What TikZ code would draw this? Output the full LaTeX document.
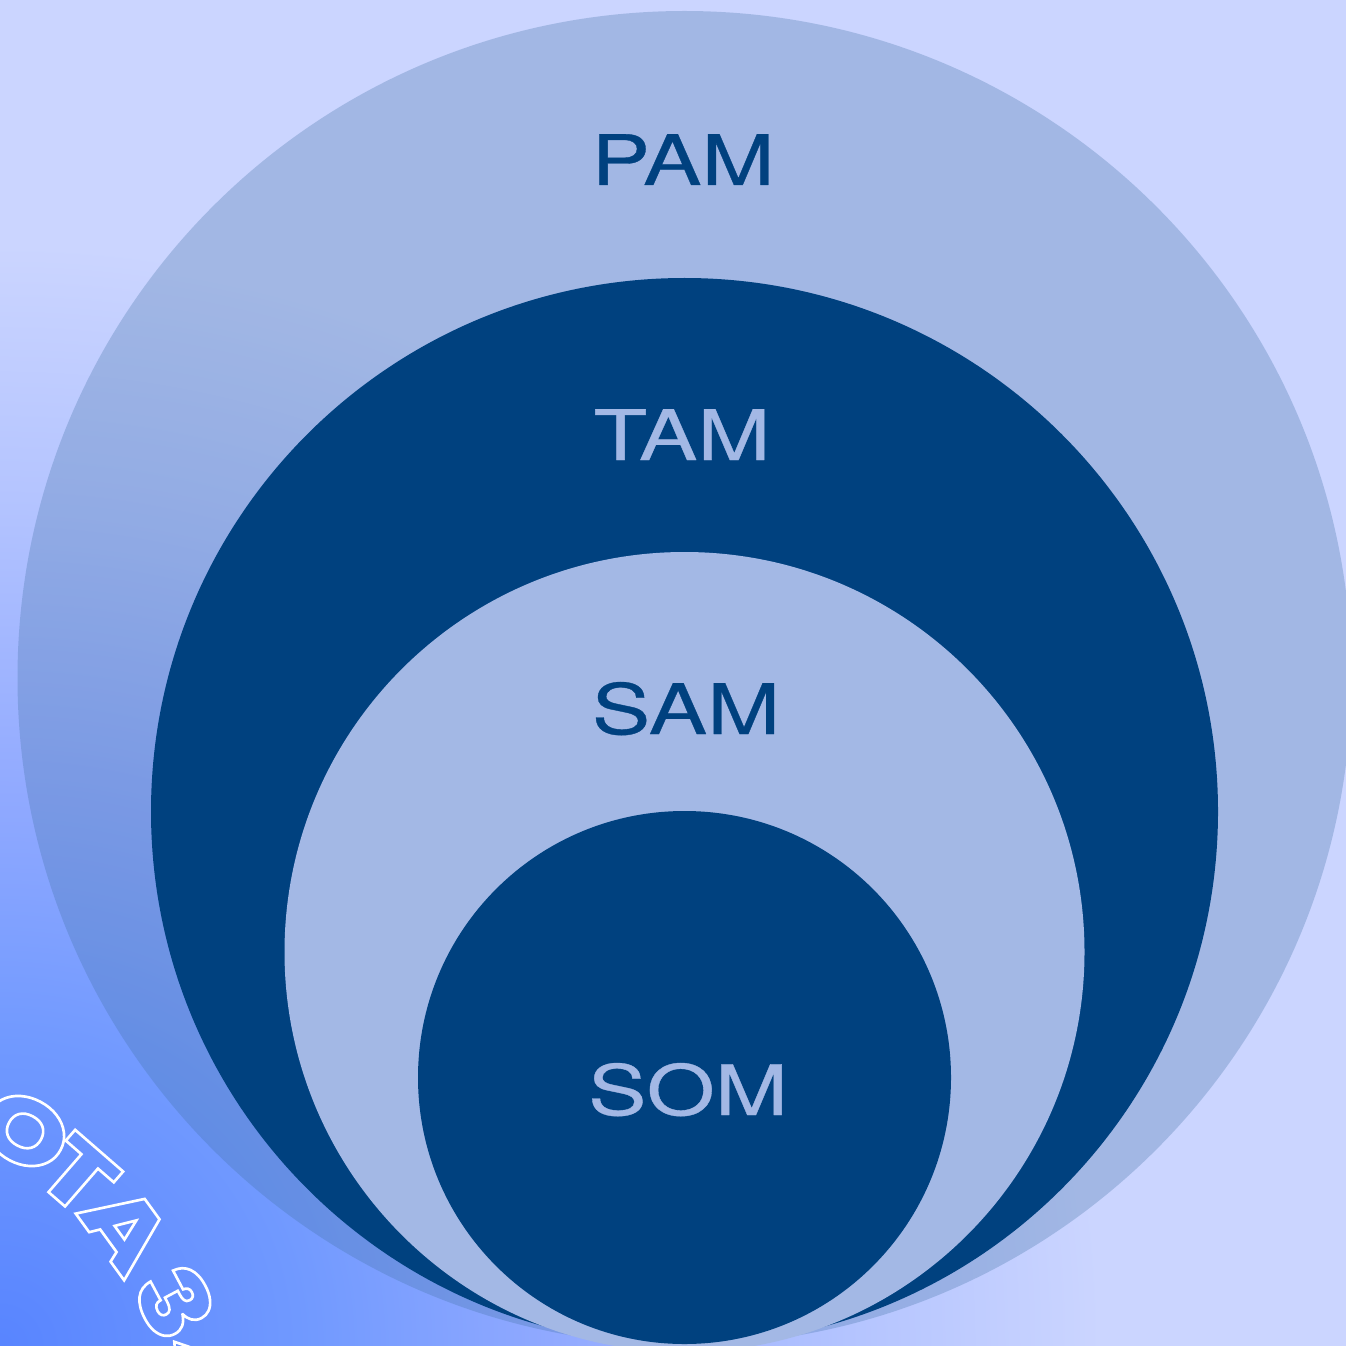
\documentclass[tikz,border=0pt]{standalone}
\usepackage{fontspec}
\newfontfamily\labelfont[FakeStretch=1.26,FakeBold=0.5]{TeX Gyre Heros}
\newfontfamily\ringfont[FakeStretch=1.22]{Poppins ExtraBold}
\definecolor{deepblue}{HTML}{00417F}
\definecolor{paleblue}{HTML}{A3B8E5}
\definecolor{veilblue}{HTML}{4171A5}
\definecolor{skyblue}{HTML}{CBD5FF}
\pgfdeclareradialshading{glow}{\pgfpoint{0bp}{0bp}}{%
 rgb(0bp)=(0.345,0.52,1);
 rgb(5bp)=(0.44,0.6,1);
 rgb(9.15bp)=(0.565,0.663,1);
 rgb(14.15bp)=(0.706,0.769,1);
 rgb(18.35bp)=(0.796,0.835,1);
 rgb(50bp)=(0.796,0.835,1)}
\tikzset{
 ringlabel/.style={anchor=base,inner sep=0pt,font=\labelfont\fontsize{19.8pt}{20pt}\selectfont},
 ringletter/.style={inner sep=0pt,font=\ringfont\fontsize{26pt}{27pt}\selectfont},
}
\newcommand{\hollow}[1]{\special{pdf:code q 1 Tr 0.75 w 1 1 1 RG}#1\special{pdf:code Q}}
\begin{document}
\begin{tikzpicture}[x=0.01cm,y=-0.01cm]
\useasboundingbox (0,0) rectangle (1346,1346);
\clip (0,0) rectangle (1346,1346);
\fill[skyblue] (0,0) rectangle (1346,1346);
\shade[shading=glow] (0,1346) circle (1500);
\fill[veilblue,fill opacity=0.29] (684.5,678) circle (667);
\fill[deepblue] (684.5,811.5) circle (533.5);
\fill[paleblue] (684.5,952) circle (400);
\fill[deepblue] (684.5,1077.5) circle (266.5);
\node[ringlabel,text=deepblue] (pam) at (683,185) {PAM};
\node[ringlabel,text=paleblue] (tam) at (682,460) {TAM};
\node[ringlabel,text=deepblue] (sam) at (686,734) {SAM};
\node[ringlabel,text=paleblue] (som) at (688,1115) {SOM};
\node[ringletter,rotate=-28] (l1) at (25,1131) {\hollow{O}};
\node[ringletter,rotate=-41] (l2) at (78,1175) {\hollow{T}};
\node[ringletter,rotate=-54] (l3) at (126,1228) {\hollow{A}};
\node[ringletter,rotate=-62] (l4) at (175,1302) {\hollow{3}};
\node[ringletter,rotate=-85] (l5) at (210,1380) {\hollow{A}};
\end{tikzpicture}
\end{document}
